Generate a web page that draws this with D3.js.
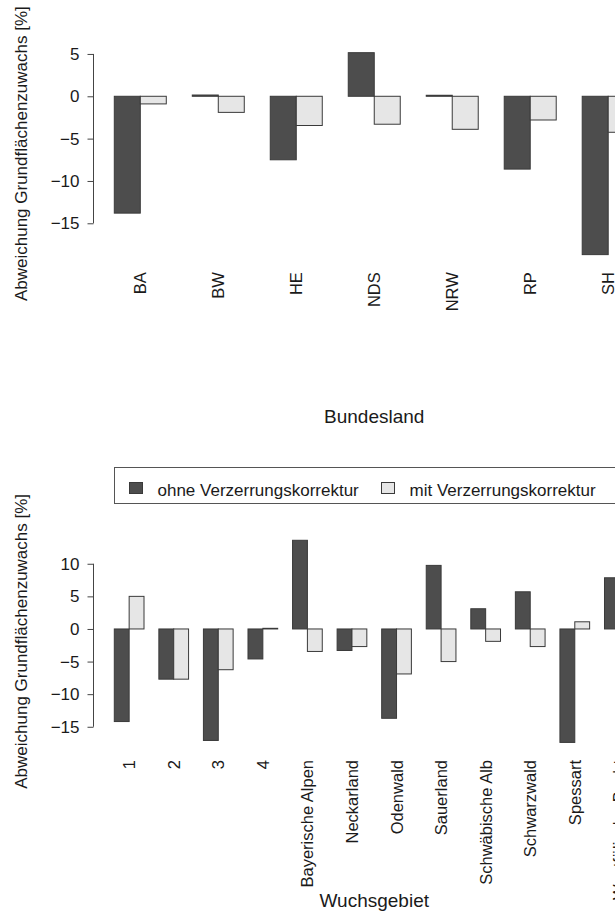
<!DOCTYPE html>
<html>
<head>
<meta charset="utf-8">
<script src="https://cdn.jsdelivr.net/npm/d3@7"></script>
<style>
  body { margin: 0; background: #fff; }
  text { font-family: "Liberation Sans", Arial, Helvetica, sans-serif; fill: #1a1a1a; }
</style>
</head>
<body>
<svg id="chart" width="615" height="914"></svg>
<script>
// Abweichung des Grundflächenzuwachses [%], ohne / mit Verzerrungskorrektur
const seriesNames = ["ohne Verzerrungskorrektur", "mit Verzerrungskorrektur"];
const seriesFill = ["#4d4d4d", "#e6e6e6"];

const bundeslaender = ["BA", "BW", "HE", "NDS", "NRW", "RP", "SH"];
const blOhne = [-13.8, 0.15, -7.5, 5.15, 0.12, -8.6, -18.7];
const blMit  = [-0.9, -1.9, -3.45, -3.3, -3.9, -2.8, -4.25];
const blTicks = [5, 0, -5, -10, -15];

const wuchsgebiete = ["1", "2", "3", "4", "Bayerische Alpen", "Neckarland", "Odenwald",
  "Sauerland", "Schwäbische Alb", "Schwarzwald", "Spessart", "Westfälische Bucht"];
const wgOhne = [-14.2, -7.7, -17.1, -4.6, 13.6, -3.3, -13.7, 9.75, 3.1, 5.7, -17.4, 7.85];
const wgMit  = [5.0, -7.7, -6.25, 0.1, -3.45, -2.7, -6.9, -5.0, -1.9, -2.7, 1.1, -2.2];
const wgTicks = [10, 5, 0, -5, -10, -15];

const svg = d3.select("#chart");
const plotLeft = 93.5, plotRight = 655;

function panel(cfg) {
  const n = cfg.cats.length;
  // grouped bars: two bars of width 1 per group, one unit gap before each group
  const pad = (3 * n - 1) * 0.04;
  const x = d3.scaleLinear().domain([1 - pad, 3 * n + pad]).range([plotLeft, plotRight]);
  const all = cfg.ohne.concat(cfg.mit, [0]);
  const lo = d3.min(all), hi = d3.max(all), yp = (hi - lo) * 0.04;
  const y = d3.scaleLinear().domain([lo - yp, hi + yp]).range([cfg.bottom, cfg.top]);

  const g = svg.append("g");
  const rows = [];
  cfg.cats.forEach((c, i) => {
    [cfg.ohne[i], cfg.mit[i]].forEach((v, s) => rows.push({ c, i, s, v, left: 1 + 3 * i + s }));
  });

  g.selectAll("rect.bar").data(rows).join("rect")
    .attr("class", "bar")
    .attr("x", d => x(d.left))
    .attr("width", d => x(d.left + 1) - x(d.left))
    .attr("y", d => y(Math.max(d.v, 0)))
    .attr("height", d => Math.max(Math.abs(y(d.v) - y(0)), 0.5))
    .attr("fill", d => seriesFill[d.s])
    .attr("stroke", "#3a3a3a")
    .attr("stroke-width", 1);

  // y axis, line only between first and last tick
  const ax = g.append("g").attr("transform", `translate(${plotLeft},0)`)
    .call(d3.axisLeft(y).tickValues(cfg.ticks).tickSize(6).tickPadding(8)
      .tickFormat(d => d3.format("d")(d)));
  ax.select(".domain").remove();
  ax.selectAll("line").attr("stroke", "#444");
  ax.selectAll("text").style("font-size", "17px").attr("fill", "#1a1a1a");
  ax.append("line")
    .attr("x1", 0).attr("x2", 0)
    .attr("y1", y(d3.max(cfg.ticks))).attr("y2", y(d3.min(cfg.ticks)))
    .attr("stroke", "#444");

  // category names, vertical
  g.selectAll("text.name").data(cfg.cats).join("text")
    .attr("class", "name")
    .attr("transform", (d, i) => `translate(${x(2 + 3 * i)},${cfg.bottom + 9.5}) rotate(-90)`)
    .attr("text-anchor", "end")
    .attr("dominant-baseline", "central")
    .style("font-size", "16.5px")
    .text(d => d);

  // axis titles
  g.append("text")
    .attr("x", (plotLeft + plotRight) / 2).attr("y", cfg.xTitleY)
    .attr("text-anchor", "middle").style("font-size", "19px")
    .text(cfg.xTitle);
  g.append("text")
    .attr("transform", `translate(27,${(cfg.top + cfg.bottom) / 2}) rotate(-90)`)
    .attr("text-anchor", "middle").style("font-size", "17px")
    .text("Abweichung Grundflächenzuwachs [%]");
  return { x, y };
}

panel({ cats: bundeslaender, ohne: blOhne, mit: blMit, ticks: blTicks,
        top: 44.6, bottom: 262.7, xTitle: "Bundesland", xTitleY: 422.5 });
panel({ cats: wuchsgebiete, ohne: wgOhne, mit: wgMit, ticks: wgTicks,
        top: 532.2, bottom: 750.5, xTitle: "Wuchsgebiet", xTitleY: 907 });

// legend
const leg = svg.append("g");
leg.append("rect").attr("x", 114.5).attr("y", 467.5).attr("width", 540).attr("height", 36)
  .attr("fill", "none").attr("stroke", "#555");
const legX = [129.5, 381.5];
seriesNames.forEach((name, s) => {
  leg.append("rect").attr("x", legX[s]).attr("y", 482.5).attr("width", 13).attr("height", 11)
    .attr("fill", seriesFill[s]).attr("stroke", "#3a3a3a");
  leg.append("text").attr("x", legX[s] + 28).attr("y", 496)
    .style("font-size", "17px").text(name);
});
</script>
</body>
</html>
